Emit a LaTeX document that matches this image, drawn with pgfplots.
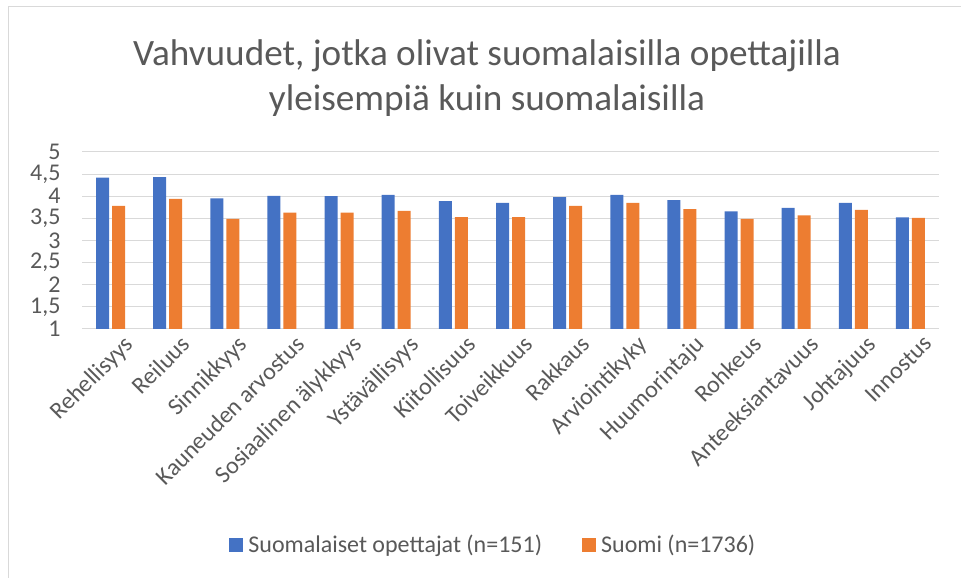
\documentclass[border=0pt]{standalone}
\usepackage{pgfplots}
\pgfplotsset{compat=1.18}
\usepackage{fontspec}
\setmainfont{Carlito}
\definecolor{cblue}{HTML}{4472C4}
\definecolor{corange}{HTML}{ED7D31}
\definecolor{cgrid}{HTML}{D9D9D9}
\definecolor{ctext}{HTML}{595959}
\begin{document}
\begin{tikzpicture}[x=1pt,y=1pt]
\path[use as bounding box] (0,0) rectangle (961,578);
\draw[cgrid, line width=1pt] (8,0) -- (8,571) -- (961,571);
\node[ctext, font=\fontsize{37.2}{45}\selectfont, align=center] at (487,500) {Vahvuudet, jotka olivat suomalaisilla opettajilla\\yleisempiä kuin suomalaisilla};
\begin{axis}[
  at={(82pt,249pt)}, anchor=south west,
  scale only axis, width=857pt, height=177pt,
  ymin=1, ymax=5, xmin=-0.5, xmax=14.5,
  ytick={1,1.5,...,5},
  ymajorgrids, major grid style={cgrid, line width=1pt},
  axis line style={draw=none}, tick style={draw=none},
  ybar=3pt, bar width=13pt,
  xtick=data,
  xticklabels={Rehellisyys,Reiluus,Sinnikkyys,Kauneuden arvostus,Sosiaalinen älykkyys,Ystävällisyys,Kiitollisuus,Toiveikkuus,Rakkaus,Arviointikyky,Huumorintaju,Rohkeus,Anteeksiantavuus,Johtajuus,Innostus},
  xticklabel style={rotate=45, anchor=north east, font=\fontsize{24}{28}\selectfont, text=ctext, xshift=9pt, yshift=-8pt, inner sep=1pt},
  yticklabel style={font=\fontsize{24}{28}\selectfont, text=ctext, xshift=-18pt, /pgf/number format/use comma},
  /pgf/number format/assume math mode=true,
  legend style={at={(0.48,-1.22)}, anchor=center, draw=none, legend columns=2, font=\fontsize{24}{28}\selectfont, text=ctext,
    /tikz/every even column/.append style={column sep=38pt}},
  legend image code/.code={\path[#1, draw=none] (0pt,-7pt) rectangle (14pt,7pt);},
]
\addplot[fill=cblue, draw=none] coordinates {(0,4.42) (1,4.43) (2,3.95) (3,4.01) (4,4.00) (5,4.03) (6,3.89) (7,3.85) (8,3.98) (9,4.03) (10,3.91) (11,3.66) (12,3.74) (13,3.85) (14,3.52)};
\addplot[fill=corange, draw=none] coordinates {(0,3.78) (1,3.94) (2,3.49) (3,3.63) (4,3.63) (5,3.67) (6,3.53) (7,3.53) (8,3.78) (9,3.85) (10,3.71) (11,3.49) (12,3.57) (13,3.69) (14,3.51)};
\addlegendentry{\hspace{3pt}Suomalaiset opettajat (n=151)}
\addlegendentry{\hspace{3pt}Suomi (n=1736)}
\end{axis}
\end{tikzpicture}
\end{document}
